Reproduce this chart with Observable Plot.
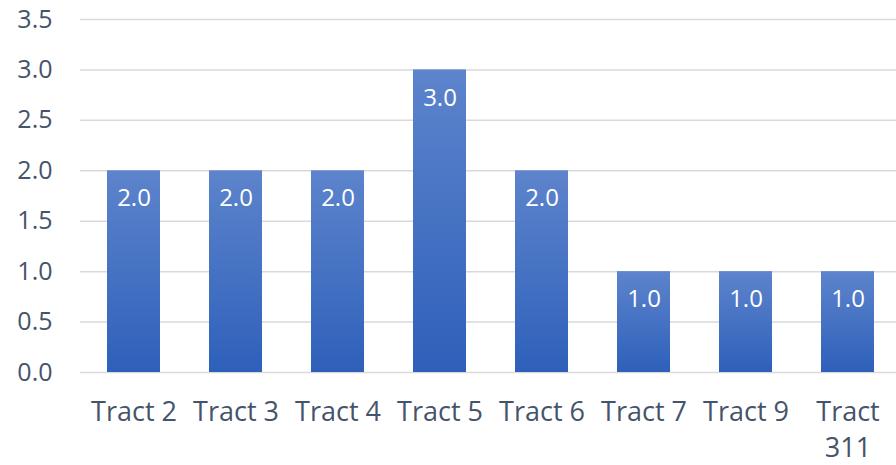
<!DOCTYPE html>
<html>
<head>
<meta charset="utf-8">
<script src="https://cdn.jsdelivr.net/npm/d3@7"></script>
<script src="https://cdn.jsdelivr.net/npm/@observablehq/plot@0.6"></script>
<style>
  html, body { margin: 0; padding: 0; background: #fff; overflow: hidden; }
</style>
</head>
<body>
<div id="chart"></div>
<script>
const categories = ["Tract 2", "Tract 3", "Tract 4", "Tract 5", "Tract 6", "Tract 7", "Tract 9", "Tract 311"];
const values = [2.0, 2.0, 2.0, 3.0, 2.0, 1.0, 1.0, 1.0];
const yTicks = [0, 0.5, 1.0, 1.5, 2.0, 2.5, 3.0, 3.5];

const data = categories.map((c, i) => ({tract: c, value: values[i]}));

const textColor = "#44546a";
const font = "'Open Sans', sans-serif";

const defs = () => {
  const d = d3.create("svg:defs");
  const g = d.append("linearGradient").attr("id", "barGrad")
    .attr("x1", 0).attr("y1", 0).attr("x2", 0).attr("y2", 1);
  g.append("stop").attr("offset", "0%").attr("stop-color", "#5d84cc");
  g.append("stop").attr("offset", "100%").attr("stop-color", "#2e60ba");
  return d.node();
};

const chart = Plot.plot({
  width: 896,
  height: 465,
  marginLeft: 80,
  marginRight: -6,
  marginTop: 19,
  marginBottom: 93,
  style: {fontFamily: font, fontSize: "25px", color: textColor, background: "#fff", overflow: "hidden"},
  x: {domain: categories, paddingInner: 0.48, paddingOuter: 0.24, label: null},
  y: {domain: [0, 3.5], label: null},
  marks: [
    defs,
    Plot.gridY(yTicks, {stroke: "#d9d9d9", strokeOpacity: 1, strokeWidth: 1.5}),
    Plot.axisY(yTicks, {tickSize: 0, tickPadding: 28, tickFormat: d => d.toFixed(1), fill: textColor, fontSize: 25, label: null}),
    Plot.axisX({tickSize: 0, tickPadding: 24, fill: textColor, fontSize: 27, label: null, lineHeight: 1.3,
      tickFormat: d => d === "Tract 311" ? "Tract\n311" : d}),
    Plot.barY(data, {x: "tract", y: "value", fill: "url(#barGrad)"}),
    Plot.text(data, {x: "tract", y: "value", text: d => d.value.toFixed(1), dy: 28, fill: "white", fontSize: 24})
  ]
});
document.getElementById("chart").append(chart);
</script>
</body>
</html>
